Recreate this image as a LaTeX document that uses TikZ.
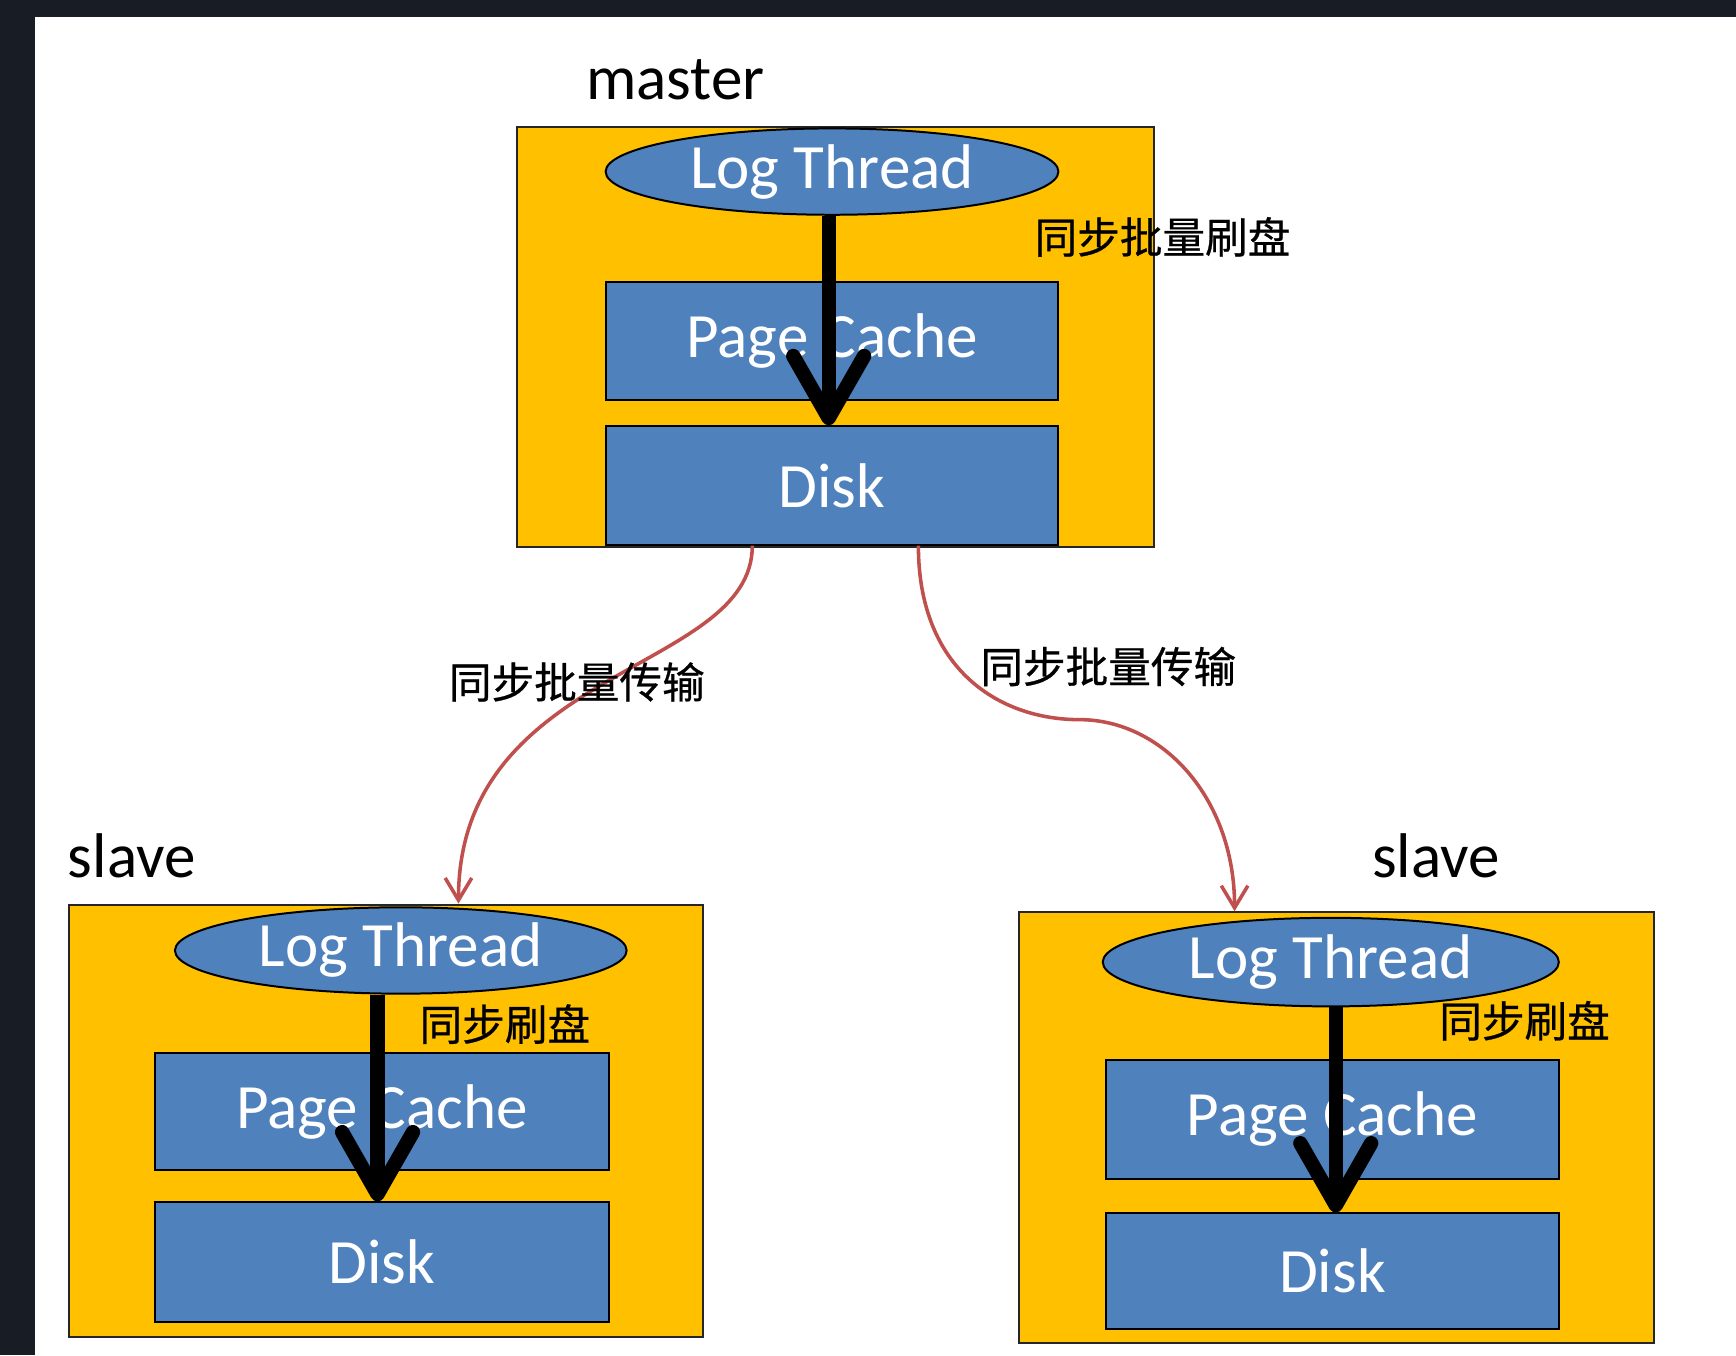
\documentclass[tikz,border=0pt]{standalone}
\usepackage{fontspec}
\setmainfont{Carlito}
\newfontfamily\cjk[FakeBold=0.6]{Noto Sans CJK SC}
\usetikzlibrary{arrows.meta,calc,shapes.geometric}
\definecolor{bgdark}{RGB}{24,28,37}
\definecolor{boxorange}{RGB}{255,192,0}
\definecolor{boxblue}{RGB}{79,129,189}
\definecolor{linkred}{RGB}{192,80,77}
\begin{document}
\begin{tikzpicture}[x=0.5pt,y=-0.5pt,
  outerbox/.style={draw=black!85, line width=0.9pt, fill=boxorange, inner sep=0pt},
  bluebox/.style={draw=black, line width=0.9pt, fill=boxblue, text=white, inner sep=0pt,
    font=\fontsize{28.5}{30}\selectfont},
  threadell/.style={bluebox, ellipse},
  rolelabel/.style={font=\fontsize{28.5}{30}\selectfont, anchor=base, inner sep=0pt},
  cjklabel/.style={font=\cjk\fontsize{19.25}{20}\selectfont, inner sep=0pt},
  flusharrow/.style={line width=6.5pt, -{Straight Barb[length=28pt,width=32pt,line cap=round,line join=round]}},
  transfer/.style={draw=linkred, line width=1.6pt, -{Straight Barb[length=10pt,width=12pt]}}
]
\useasboundingbox (0,0) rectangle (1568,1224);
\fill[bgdark] (0,0) rectangle (1568,1224);
\fill[white] (31.6,15.4) rectangle (1568,1224);

% master
\node[outerbox, minimum width=287.5pt, minimum height=189.5pt] (mbox) at (754.5,304.5) {};
\node[threadell, minimum width=204.5pt, minimum height=39pt] (mlt) at (751.5,155) {Log Thread};
\node[bluebox, minimum width=204.5pt, minimum height=53pt] (mpc) at (751.5,308) {Page Cache};
\node[bluebox, minimum width=204.5pt, minimum height=53.5pt] (mdisk) at (751.5,438.5) {Disk};
\node[rolelabel] (mlabel) at (610,90) {master};

% left slave
\node[outerbox, minimum width=286.5pt, minimum height=195.5pt] (sbL) at (348.5,1012.5) {};
\node[threadell, minimum width=204pt, minimum height=39pt] (ltL) at (362,858.5) {Log Thread};
\node[bluebox, minimum width=205pt, minimum height=53pt] (pcL) at (345,1004) {Page Cache};
\node[bluebox, minimum width=205pt, minimum height=54pt] (diskL) at (345,1140) {Disk};
\node[rolelabel] (slabelL) at (119,793) {slave};

% right slave
\node[outerbox, minimum width=287pt, minimum height=194.5pt] (sbR) at (1207,1018.5) {};
\node[threadell, minimum width=206pt, minimum height=40pt] (ltR) at (1202,869) {Log Thread};
\node[bluebox, minimum width=204.5pt, minimum height=54pt] (pcR) at (1203.5,1011) {Page Cache};
\node[bluebox, minimum width=204.5pt, minimum height=52pt] (diskR) at (1203.5,1148) {Disk};
\node[rolelabel] (slabelR) at (1297,793) {slave};

% flush arrows
\draw[flusharrow] ($(mdisk.north |- mlt.south)+(-3,0)$) -- ($(mdisk.north)+(-3,0)$);
\draw[flusharrow] ($(diskL.north |- ltL.south)+(-4,0)$) -- ($(diskL.north)+(-4,0)$);
\draw[flusharrow] ($(diskR.north |- ltR.south)+(3,0)$) -- ($(diskR.north)+(3,0)$);

% flush labels
\node[cjklabel] (mflush) at (1050,214) {同步批量刷盘};
\node[cjklabel] (flushL) at (456,925) {同步刷盘};
\node[cjklabel] (flushR) at (1377,922) {同步刷盘};

% transfer curves
\coordinate (outL) at ($(mdisk.south)+(-72,0)$);
\coordinate (outR) at ($(mdisk.south)+(78,0)$);
\coordinate (inL) at ($(sbL.north west)+(353,0)$);
\coordinate (inR) at ($(sbR.north west)+(196,0)$);
\coordinate (bendR) at (975,650);
\draw[transfer] (outL) .. controls ($(outL)+(0,115)$) and ($(inL)+(0,-215)$) .. (inL);
\draw[transfer] (outR) .. controls ($(outR)+(0,112)$) and ($(bendR)+(-72,0)$) .. (bendR)
  .. controls ($(bendR)+(75,0)$) and ($(inR)+(0,-102)$) .. (inR);

\node[cjklabel] (tlabelL) at (521,616) {同步批量传输};
\node[cjklabel] (tlabelR) at (1001,602) {同步批量传输};
\end{tikzpicture}
\end{document}
